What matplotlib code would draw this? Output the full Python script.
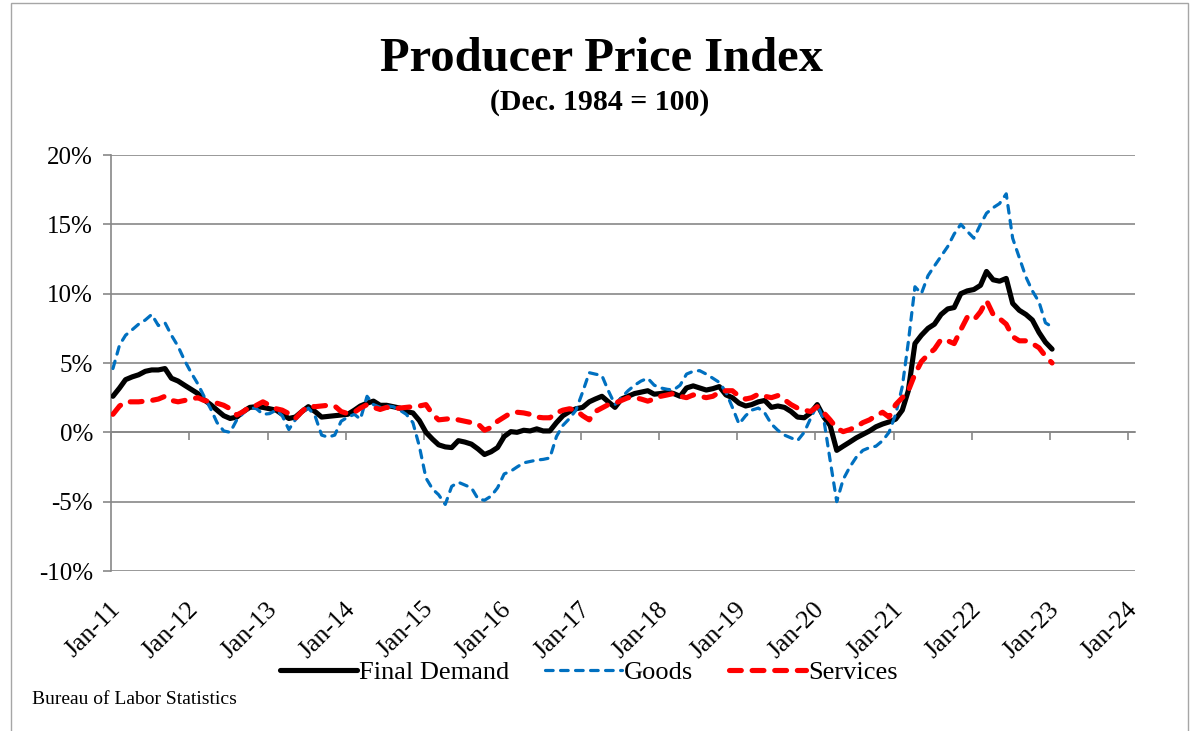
import numpy as np
import pandas as pd
import matplotlib
matplotlib.use("Agg")
import matplotlib.pyplot as plt
import matplotlib.dates as mdates
import matplotlib.transforms as mtransforms
from matplotlib.patches import Rectangle

plt.rcParams['font.family'] = ['Liberation Serif', 'DejaVu Serif']

# ---------------- data (12-month % change, monthly Jan-2011 .. Jan-2023) -------------
start_month = "2011-01-01"
end_month = "2023-01-01"

final_demand = [
    2.6, 3.2, 3.8, 4.0, 4.15, 4.4, 4.5, 4.5, 4.6, 3.9, 3.7, 3.4,        # 2011
    3.1, 2.8, 2.35, 2.0, 1.6, 1.2, 1.0, 1.1, 1.5, 1.8, 1.85, 1.8,       # 2012
    1.7, 1.6, 1.3, 1.0, 1.1, 1.5, 1.85, 1.5, 1.1, 1.15, 1.2, 1.25,      # 2013
    1.3, 1.6, 1.9, 2.1, 2.25, 1.95, 1.95, 1.85, 1.75, 1.5, 1.4, 0.85,   # 2014
    0.0, -0.5, -0.9, -1.05, -1.1, -0.6, -0.7, -0.85, -1.2, -1.6, -1.4, -1.1,  # 2015
    -0.3, 0.05, 0.0, 0.15, 0.1, 0.25, 0.1, 0.1, 0.7, 1.2, 1.5, 1.7,     # 2016
    1.8, 2.2, 2.4, 2.6, 2.2, 1.8, 2.4, 2.6, 2.8, 2.9, 3.0, 2.75,        # 2017
    2.8, 2.9, 2.8, 2.6, 3.2, 3.35, 3.2, 3.05, 3.15, 3.3, 2.7, 2.5,      # 2018
    2.1, 1.9, 2.0, 2.2, 2.3, 1.8, 1.9, 1.8, 1.5, 1.1, 1.05, 1.4,        # 2019
    2.0, 1.1, 0.5, -1.3, -1.0, -0.7, -0.4, -0.15, 0.1, 0.4, 0.6, 0.75,  # 2020
    0.95, 1.6, 3.0, 6.4, 7.0, 7.5, 7.8, 8.5, 8.9, 9.0, 10.0, 10.2,      # 2021
    10.3, 10.6, 11.6, 11.0, 10.9, 11.1, 9.3, 8.8, 8.5, 8.1, 7.2, 6.5,   # 2022
    6.0,                                                                # 2023
]

goods = [
    4.6, 6.3, 7.0, 7.4, 7.8, 8.1, 8.5, 7.7, 7.9, 7.0, 6.2, 5.2,         # 2011
    4.3, 3.5, 2.6, 1.7, 0.7, 0.1, 0.0, 0.9, 1.4, 1.8, 1.7, 1.3,         # 2012
    1.35, 1.6, 1.2, 0.2, 0.9, 1.4, 1.75, 1.2, -0.2, -0.35, -0.2, 0.8,   # 2013
    1.1, 1.3, 0.95, 2.6, 2.0, 1.8, 1.9, 1.85, 1.6, 1.3, 0.7, -1.0,      # 2014
    -3.3, -4.1, -4.5, -5.2, -3.9, -3.6, -3.8, -4.0, -4.8, -4.9, -4.6, -4.0,  # 2015
    -3.0, -2.8, -2.5, -2.2, -2.1, -2.0, -1.95, -1.85, -0.3, 0.5, 1.0, 1.6,   # 2016
    2.9, 4.3, 4.2, 4.1, 3.0, 2.0, 2.5, 3.0, 3.4, 3.7, 3.9, 3.4,         # 2017
    3.2, 3.1, 3.05, 3.4, 4.2, 4.4, 4.45, 4.2, 3.9, 3.6, 2.9, 1.8,       # 2018
    0.6, 1.2, 1.6, 1.75, 1.4, 0.6, 0.15, -0.2, -0.4, -0.6, 0.0, 1.0,    # 2019
    2.0, 0.9, -2.0, -5.0, -3.4, -2.5, -1.8, -1.3, -1.1, -1.0, -0.6, 0.0,  # 2020
    1.3, 3.3, 6.5, 10.5, 10.0, 11.3, 12.0, 12.7, 13.4, 14.3, 15.0, 14.5,  # 2021
    14.0, 15.0, 15.8, 16.2, 16.5, 17.2, 14.0, 12.6, 11.2, 10.2, 9.4, 7.9,  # 2022
    7.6,                                                                  # 2023
]

services = [
    1.3, 1.9, 2.2, 2.2, 2.2, 2.25, 2.3, 2.4, 2.6, 2.3, 2.2, 2.3,        # 2011
    2.4, 2.5, 2.3, 2.2, 2.1, 1.95, 1.7, 1.25, 1.5, 1.85, 1.95, 2.2,     # 2012
    1.95, 1.7, 1.6, 1.35, 1.0, 1.5, 1.9, 1.85, 1.9, 1.95, 1.9, 1.5,     # 2013
    1.35, 1.45, 1.75, 2.0, 1.8, 1.65, 1.8, 1.7, 1.75, 1.8, 1.85, 1.9,   # 2014
    2.0, 1.3, 0.9, 0.95, 1.0, 0.9, 0.8, 0.7, 0.6, 0.15, 0.35, 0.8,      # 2015
    1.1, 1.4, 1.45, 1.4, 1.3, 1.1, 1.05, 1.05, 1.4, 1.6, 1.7, 1.6,      # 2016
    1.2, 0.9, 1.5, 1.75, 2.0, 2.1, 2.3, 2.5, 2.5, 2.4, 2.25, 2.4,       # 2017
    2.6, 2.7, 2.8, 2.6, 2.5, 2.7, 2.6, 2.5, 2.6, 2.9, 3.0, 3.0,         # 2018
    2.6, 2.4, 2.5, 2.75, 2.6, 2.5, 2.65, 2.35, 2.0, 1.75, 1.6, 1.5,     # 2019
    1.85, 1.4, 0.9, 0.3, 0.05, 0.2, 0.4, 0.7, 0.9, 1.2, 1.45, 1.1,      # 2020
    2.0, 2.5, 3.0, 4.2, 5.1, 5.6, 6.0, 6.7, 6.6, 6.4, 7.4, 8.3,         # 2021
    8.1, 8.7, 9.5, 8.5, 8.2, 7.8, 6.9, 6.6, 6.6, 6.4, 6.1, 5.5,         # 2022
    5.0,                                                                # 2023
]

series_names = ["Final Demand", "Goods", "Services"]
tick_years = list(range(2011, 2025))
x_tick_labels = [f"Jan-{y % 100:02d}" for y in tick_years]
y_ticks = [-10, -5, 0, 5, 10, 15, 20]
y_tick_labels = [f"{v}%" for v in y_ticks]

title = "Producer Price Index"
subtitle = "(Dec. 1984 = 100)"
source = "Bureau of Labor Statistics"

# ---------------- figure ----------------
W, H = 1191, 731
fig = plt.figure(figsize=(W / 100, H / 100), dpi=100)
fig.patch.set_facecolor("white")

# outer chart border
fig.add_artist(Rectangle((11 / W, -0.01), (1188 - 11) / W, 1.0 + 0.0065,
                         transform=fig.transFigure, fill=False,
                         edgecolor="#a6a6a6", linewidth=1.0))

left, right, top, bottom = 111, 1135, 155, 571
ax = fig.add_axes([left / W, (H - bottom) / H, (right - left) / W, (bottom - top) / H])

dates = pd.date_range(start_month, end_month, freq="MS") + pd.Timedelta(days=9)
x = mdates.date2num(dates)

grid_col = "#878787"
ax.plot(x, final_demand, color="black", lw=3.7, solid_capstyle="round",
        solid_joinstyle="round", label=series_names[0], zorder=3)
ax.plot(x, goods, color="#0070C0", lw=2.3, linestyle=(0, (2.4, 2.3)),
        dash_capstyle="round", dash_joinstyle="round", label=series_names[1], zorder=3)
ax.plot(x, services, color="#FF0000", lw=3.7, linestyle=(0, (2.3, 2.1)),
        dash_capstyle="round", dash_joinstyle="round", label=series_names[2], zorder=3)

tick_nums = mdates.date2num(pd.to_datetime([f"{y}-01-01" for y in tick_years]))
ax.set_xlim(tick_nums[0], mdates.date2num(pd.Timestamp("2024-02-01")))
ax.set_ylim(y_ticks[0], y_ticks[-1])

ax.set_yticks(y_ticks)
ax.set_yticklabels(y_tick_labels)
ax.yaxis.grid(True, color=grid_col, linewidth=1.2)
ax.set_axisbelow(True)
for s in ["top", "right", "bottom"]:
    ax.spines[s].set_visible(False)
ax.spines["left"].set_color(grid_col)
ax.spines["left"].set_linewidth(1.2)
ax.tick_params(axis="y", length=6, width=1.2, color=grid_col, labelsize=18, pad=7)

ax.set_xticks(tick_nums)
ax.set_xticklabels(x_tick_labels, rotation=45, ha="right", va="center",
                   rotation_mode="anchor")
ax.tick_params(axis="x", length=0, labelsize=18.5, pad=25)
shift = mtransforms.ScaledTranslation(6 / 100, 0, fig.dpi_scale_trans)
for lab in ax.get_xticklabels():
    lab.set_transform(lab.get_transform() + shift)

# axis line at 0 with outward tick marks (Excel style: labels low)
zero_frac = (0 - y_ticks[0]) / (y_ticks[-1] - y_ticks[0])
sec = ax.secondary_xaxis(zero_frac)
sec.set_xticks(tick_nums)
sec.tick_params(axis="x", length=6, width=1.2, color=grid_col, labelbottom=False,
                labeltop=False)
for s in sec.spines.values():
    s.set_color(grid_col)
    s.set_linewidth(1.2)

# titles
fig.text(601 / W, 1 - 59 / H, title, ha="center", va="center",
         fontsize=35, fontweight="bold")
fig.text(600 / W, 1 - 103 / H, subtitle, ha="center", va="center",
         fontsize=21.5, fontweight="bold")

# legend
leg = fig.legend(loc="center", bbox_to_anchor=(589 / W, 1 - 672 / H), ncol=3,
                 frameon=False, fontsize=19, handlelength=2.9,
                 handletextpad=0.1, columnspacing=1.35, borderaxespad=0)

fig.text(32 / W, 1 - 699 / H, source, ha="left", va="center", fontsize=14)

fig.savefig("out.png", dpi=100, facecolor="white")
